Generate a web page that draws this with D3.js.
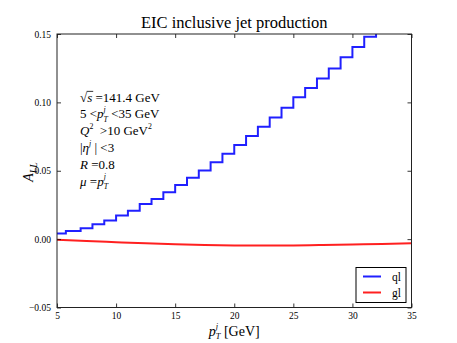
<!DOCTYPE html>
<html><head><meta charset="utf-8">
<script src="https://cdn.jsdelivr.net/npm/d3@7"></script>
<style>body{margin:0;background:#fff}svg{display:block}text{white-space:pre}</style>
</head><body>
<svg id="c" width="457" height="343"></svg>
<script>
// ---- data ----
const binEdges = [5, 5.75, 7, 8, 9, 10, 11, 12, 13, 14, 15, 16, 17, 18, 19, 20, 21, 22, 23, 24, 25, 26, 27, 28, 29, 30, 31, 32, 33, 34, 35];
const qlValues = [0.0042, 0.0060, 0.0079, 0.0108, 0.0137, 0.0172, 0.0208, 0.0257, 0.0293, 0.0342, 0.0396, 0.0449, 0.0502, 0.0563, 0.0624, 0.0688, 0.0755, 0.0821, 0.0889, 0.0960, 0.1038, 0.1106, 0.1174, 0.1247, 0.1330, 0.1405, 0.1480, 0.1560, 0.1640, 0.1720];
const glX = [5, 7.5, 10, 12.5, 15, 17.5, 20, 22.5, 25, 27.5, 30, 32.5, 35];
const glValues = [-0.0005, -0.0013, -0.0022, -0.0031, -0.0038, -0.0043, -0.0046, -0.0047, -0.0046, -0.0043, -0.0039, -0.0035, -0.0031];
const xTicks = [5, 10, 15, 20, 25, 30, 35];
const yTicks = [-0.05, 0.00, 0.05, 0.10, 0.15];
const yTickLabels = ["\u22120.05", "0.00", "0.05", "0.10", "0.15"];
const seriesNames = ["ql", "gl"];
const seriesColors = ["#2020ff", "#ff2020"];

const SERIF = "'Liberation Serif','DejaVu Serif',serif";
const svg = d3.select("#c");
const L = 57, R = 411.5, T = 34, B = 307.5;
const x = d3.scaleLinear().domain([5, 35]).range([L, R]);
const y = d3.scaleLinear().domain([-0.05, 0.15]).range([B, T]);

svg.append("defs").append("clipPath").attr("id", "clip")
  .append("rect").attr("x", L).attr("y", T).attr("width", R - L).attr("height", B - T);

// rich text helper
function rich(g, x0, y0, parts, fs) {
  let cx = x0, prevStart = x0, maxX = x0;
  parts.forEach(p => {
    const size = fs * (p.sc || 1);
    const start = p.back ? prevStart : cx;
    const t = g.append("text").attr("x", start).attr("y", y0 + (p.dy || 0) * fs)
      .attr("font-family", SERIF).attr("font-size", size)
      .attr("font-style", p.it ? "italic" : "normal").attr("fill", "#000")
      .attr("xml:space", "preserve")
      .text(p.t);
    const w = t.node().getComputedTextLength();
    if (p.over) g.append("line").attr("x1", start - 0.5).attr("x2", start + w + 1)
      .attr("y1", y0 - fs * 0.78).attr("y2", y0 - fs * 0.78).attr("stroke", "#000").attr("stroke-width", 0.8);
    if (p.back) { maxX = Math.max(maxX, start + w); cx = maxX; }
    else { prevStart = start; cx = start + w; maxX = cx; }
  });
  return cx;
}
const SUP = {it: true, sc: 0.6, dy: -0.48};
const SUB = {it: true, sc: 0.6, dy: 0.25, back: true};

// series
const gPlot = svg.append("g").attr("clip-path", "url(#clip)");
const qlPts = qlValues.map((v, i) => [binEdges[i], v]);
qlPts.push([binEdges[binEdges.length - 1], qlValues[qlValues.length - 1]]);
gPlot.append("path").datum(qlPts)
  .attr("d", d3.line().x(d => x(d[0])).y(d => y(d[1])).curve(d3.curveStepAfter))
  .attr("fill", "none").attr("stroke", seriesColors[0]).attr("stroke-width", 2);
gPlot.append("path").datum(glX.map((v, i) => [v, glValues[i]]))
  .attr("d", d3.line().x(d => x(d[0])).y(d => y(d[1])).curve(d3.curveMonotoneX))
  .attr("fill", "none").attr("stroke", seriesColors[1]).attr("stroke-width", 2);

// axes (inward ticks on all sides)
const axB = svg.append("g").attr("transform", `translate(0,${B})`)
  .call(d3.axisBottom(x).tickValues(xTicks).tickSizeInner(-4).tickSizeOuter(0).tickPadding(5).tickFormat(d3.format("d")));
const axT = svg.append("g").attr("transform", `translate(0,${T})`)
  .call(d3.axisTop(x).tickValues(xTicks).tickSizeInner(-4).tickSizeOuter(0).tickFormat(""));
const axL = svg.append("g").attr("transform", `translate(${L},0)`)
  .call(d3.axisLeft(y).tickValues(yTicks).tickSizeInner(-4).tickSizeOuter(0).tickPadding(6)
    .tickFormat((d, i) => yTickLabels[i]));
const axR = svg.append("g").attr("transform", `translate(${R},0)`)
  .call(d3.axisRight(y).tickValues(yTicks).tickSizeInner(-4).tickSizeOuter(0).tickFormat(""));
[axB, axT, axL, axR].forEach(a => {
  a.select(".domain").remove();
  a.selectAll("line").attr("stroke", "#000").attr("stroke-width", 0.8);
  a.selectAll("text").attr("font-family", SERIF).attr("font-size", 9.5).attr("fill", "#000");
});
svg.append("rect").attr("x", L).attr("y", T).attr("width", R - L).attr("height", B - T)
  .attr("fill", "none").attr("stroke", "#222").attr("stroke-width", 1);

// title
svg.append("text").attr("x", (L + R) / 2).attr("y", 28).attr("text-anchor", "middle")
  .attr("font-family", SERIF).attr("font-size", 16.5).attr("fill", "#000")
  .text("EIC inclusive jet production");

// x label
const xl = svg.append("g");
const xlParts = [{t: "p", it: true}, Object.assign({t: "j"}, SUP), Object.assign({t: "T"}, SUB), {t: " [GeV]"}];
const tmp = svg.append("g").attr("opacity", 0);
const wxl = rich(tmp, 0, 0, xlParts, 14); tmp.remove();
rich(xl, (L + R) / 2 - wxl / 2, 335.5, xlParts, 14);

// y label
const yl = svg.append("g").attr("transform", `translate(33,${(T + B) / 2}) rotate(-90)`);
rich(yl, -11, 0, [{t: "A", it: true}, {t: "LL", it: true, sc: 0.7, dy: 0.3}], 14);

// annotations
const ax0 = 80, fs = 13;
const ann = svg.append("g");
rich(ann, ax0, 101.5, [{t: "\u221A"}, {t: "s", it: true, over: true}, {t: " =141.4 GeV"}], fs);
rich(ann, ax0, 118.3, [{t: "5 <"}, {t: "p", it: true}, Object.assign({t: "j"}, SUP), Object.assign({t: "T"}, SUB), {t: " <35 GeV"}], fs);
rich(ann, ax0, 135.1, [{t: "Q", it: true}, {t: "2", sc: 0.6, dy: -0.45}, {t: "  >10 GeV"}, {t: "2", sc: 0.6, dy: -0.45}], fs);
rich(ann, ax0, 151.9, [{t: "|"}, {t: "\u03B7", it: true}, Object.assign({t: "j"}, SUP), {t: " | <3"}], fs);
rich(ann, ax0, 168.7, [{t: "R", it: true}, {t: " =0.8"}], fs);
rich(ann, ax0, 185.5, [{t: "\u03BC", it: true}, {t: " ="}, {t: "p", it: true}, Object.assign({t: "j"}, SUP), Object.assign({t: "T"}, SUB)], fs);

// legend
const lg = svg.append("g");
lg.append("rect").attr("x", 356).attr("y", 267.5).attr("width", 50).attr("height", 35)
  .attr("fill", "#fff").attr("stroke", "#000").attr("stroke-width", 1);
seriesNames.forEach((n, i) => {
  const yy = 276.5 + i * 16;
  lg.append("line").attr("x1", 363).attr("x2", 381).attr("y1", yy).attr("y2", yy)
    .attr("stroke", seriesColors[i]).attr("stroke-width", 2);
  lg.append("text").attr("x", 392).attr("y", yy + 4).attr("font-family", SERIF).attr("font-size", 11.5)
    .attr("fill", "#000").text(n);
});
</script>
</body></html>
